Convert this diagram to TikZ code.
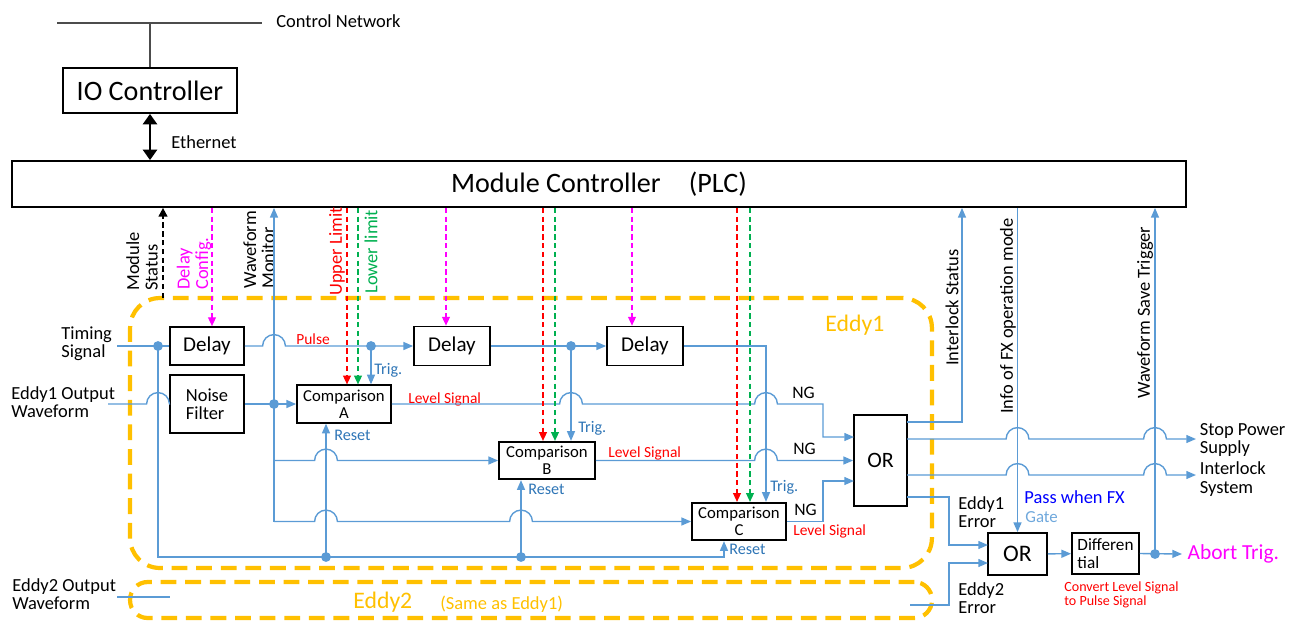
\documentclass[tikz,border=0pt]{standalone}
\usepackage{fontspec}
\setmainfont{Carlito}
\usetikzlibrary{arrows.meta, positioning, calc}
\definecolor{sigblue}{HTML}{5B9BD5}
\definecolor{txtblue}{HTML}{2E75B6}
\definecolor{gateblue}{HTML}{6FA8DC}
\definecolor{passblue}{HTML}{0000FF}
\definecolor{limred}{HTML}{FF0000}
\definecolor{limgreen}{HTML}{00B050}
\definecolor{cfgpink}{HTML}{FF00FF}
\definecolor{eddyorange}{HTML}{FFC000}
\newcommand{\fsz}[1]{\fontsize{#1}{10.5}\selectfont}
\newcommand{\fszt}[1]{\fontsize{#1}{#1}\selectfont}

\begin{document}
\begin{tikzpicture}[x=0.02cm, y=-0.02cm,
    box/.style={draw, line width=1pt, fill=white, inner sep=1pt, align=center},
    cmp/.style={box, minimum width=1.88cm, minimum height=0.75cm, inner sep=0pt, font=\fszt{9.5}},
    lbl/.style={inner sep=0pt, anchor=west, align=left, font=\fsz{10.5}},
    vlbl/.style={lbl, rotate=90},
    small/.style={lbl, font=\fsz{8.8}},
    sig/.style={draw=sigblue, line width=0.8pt},
    sigarr/.style={sig, -{Triangle[length=5.5pt, width=4.5pt]}},
    lim/.style={line width=0.7pt, dash pattern=on 3pt off 2pt, -{Triangle[length=5pt, width=4.5pt]}},
    ms/.style={line width=1.1pt, dash pattern=on 3pt off 2pt, -{Triangle[length=5pt, width=5pt]}},
    eth/.style={line width=1.7pt, {Triangle[length=6pt, width=8pt]}-{Triangle[length=6pt, width=8pt]}},
    hop/.style={insert path={-- ($(#1)+(-6.5pt,0pt)$) arc[start angle=180, end angle=0, radius=6.5pt]}},
    eddy/.style={draw=eddyorange, line width=2.4pt, dash pattern=on 9pt off 5pt, rounded corners=17pt, inner sep=0pt}]
  \useasboundingbox (0,0) rectangle (1289,620);

  \node[eddy, minimum width=16.04cm, minimum height=5.4cm] (eddy1) at (531,433) {};
  \node[eddy, rounded corners=10pt, minimum width=16.04cm, minimum height=0.72cm] (eddy2) at (531,600) {};

  \coordinate (netL) at (57,23);
  \coordinate (netR) at (262,23);
  \draw[line width=0.6pt, black!70] (netL) -- (netR);
  \node[lbl] (netlbl) at (276,21) {Control Network};
  \node[box, minimum width=3.48cm, minimum height=0.9cm, font=\fsz{16}] (ioc) at (150,90.5) {IO Controller};
  \draw[line width=0.6pt, black!70] (ioc.north) -- (ioc.north |- netL);
  \node[box, minimum width=23.48cm, minimum height=0.92cm, font=\fsz{16}] (plc) at (599,184) {Module Controller\quad(PLC)};
  \draw[eth] (ioc.south) -- (ioc.south |- plc.north);
  \node[lbl] (ethlbl) at (171,142) {Ethernet};

  \node[box, minimum width=1.48cm, minimum height=0.76cm, font=\fsz{12}] (dly1) at (207,346) {Delay};
  \node[box, minimum width=1.52cm, minimum height=0.78cm, font=\fsz{12}] (dly2) at (452,346) {Delay};
  \node[box, minimum width=1.52cm, minimum height=0.78cm, font=\fsz{12}] (dly3) at (645,346) {Delay};
  \node[box, minimum width=1.48cm, minimum height=1.16cm, font=\fsz{10.5}, align=left] (nf) at (207,404) {Noise\\Filter};
  \node[cmp] (cmpA) at (344,404) {Comparison\\A};
  \node[cmp, minimum width=1.92cm] (cmpB) at (547,460.5) {Comparison\\B};
  \node[cmp] (cmpC) at (739,521.5) {Comparison\\C};
  \node[box, minimum width=1.06cm, minimum height=1.82cm, font=\fsz{12.5}] (or1) at (880.5,460.5) {OR};
  \node[box, minimum width=1.18cm, minimum height=0.84cm, font=\fsz{13.5}] (or2) at (1017.5,554) {OR};
  \node[box, minimum width=1.34cm, minimum height=0.82cm, font=\fszt{9.8}, align=left] (dif) at (1105.5,553.5) {Differen\\tial};

  \node[lbl] (tslbl) at (61,344) {Timing\\Signal};
  \node[lbl] (e1lbl) at (11,402) {Eddy1 Output\\Waveform};
  \node[lbl] (e2lbl) at (12,594) {Eddy2 Output\\Waveform};
  \node[vlbl] (mslbl) at (142,291) {Module\\Status};
  \node[vlbl, text=cfgpink] (cfglbl) at (194,290) {Delay\\Config.};
  \node[vlbl] (wmlbl) at (259,289) {Waveform\\Monitor};
  \node[vlbl, text=limred] (uplbl) at (337,296) {Upper Limit};
  \node[vlbl, text=limgreen] (lolbl) at (371,294) {Lower limit};
  \node[vlbl] (islbl) at (952,366) {Interlock Status};
  \node[vlbl] (fxlbl) at (1008,414) {Info of FX operation mode};
  \node[vlbl] (wslbl) at (1145,399) {Waveform Save Trigger};
  \node[lbl, text=eddyorange, font=\fsz{13.5}] (e1name) at (825,325) {Eddy1};
  \node[lbl, text=eddyorange, font=\fsz{13.5}] (e2name) at (353,602) {Eddy2};
  \node[lbl, text=eddyorange] (e2note) at (440,604) {(Same as Eddy1)};
  \node[small, text=limred] (pulse) at (296,339) {Pulse};
  \foreach \n/\x/\y in {lsA/408/399, lsB/608/453, lsC/793/531}
    \node[small, text=limred] (\n) at (\x,\y) {Level Signal};
  \foreach \n/\x/\y in {trgA/374/370, trgB/578/428, trgC/770/487}
    \node[lbl, text=txtblue, font=\fsz{9.2}] (\n) at (\x,\y) {Trig.};
  \foreach \n/\x/\y in {rstA/334/435, rstB/528/489, rstC/729/549}
    \node[lbl, text=txtblue, font=\fsz{9.2}] (\n) at (\x,\y) {Reset};
  \foreach \n/\x/\y in {ngA/792/393, ngB/793/449, ngC/794/510}
    \node[lbl, font=\fsz{10}] (\n) at (\x,\y) {NG};
  \node[lbl] (e1err) at (958,512) {Eddy1\\Error};
  \node[lbl] (e2err) at (958,598) {Eddy2\\Error};
  \node[lbl, text=passblue] (pass) at (1024,497) {Pass when FX};
  \node[lbl, text=gateblue, font=\fsz{9.6}] (gate) at (1025,517) {Gate};
  \node[lbl, text=limred, font=\fszt{8}] (conv) at (1064,595) {Convert Level Signal\\to Pulse Signal};
  \node[lbl, inner xsep=2pt] (stop) at (1196,440) {Stop Power\\Supply};
  \node[lbl, inner xsep=2pt] (ilsys) at (1196,479) {Interlock\\System};
  \node[lbl, inner xsep=3pt, text=cfgpink, font=\fsz{12.2}] (abort) at (1182,554) {Abort Trig.};

  \coordinate (tsin) at (117,346);
  \coordinate (tsdot) at (158,346);
  \coordinate (busL) at (158,557);
  \coordinate (resA) at (326,557);
  \coordinate (resB) at (521,557);
  \coordinate (resC) at (724,557);
  \coordinate (e1in) at (108,404);
  \coordinate (wmdot) at (274,404);
  \coordinate (trA) at (371,346);
  \coordinate (trB) at (571,346);
  \coordinate (trC) at (766,346);
  \coordinate (bendA) at (823,404);
  \coordinate (in1) at (854,437);
  \coordinate (in3) at (854,481);
  \coordinate (oIS) at (907,422);
  \coordinate (oSP) at (907,439);
  \coordinate (oIL) at (907,475);
  \coordinate (oE1) at (907,497);
  \coordinate (ilk) at (962,422);
  \coordinate (ej) at (949,545);
  \coordinate (i1) at (988,545);
  \coordinate (i2) at (988,563);
  \coordinate (e2out) at (910,605);
  \coordinate (e2in) at (117,597);
  \coordinate (e2end) at (170,597);
  \coordinate (abdot) at (1155,554);
  \coordinate (ms) at (163,298);

  \draw[sig] (tsin) -- (dly1.west);
  \draw[sigarr] (tsdot) -- (busL) -- (resC) -- (resC |- cmpC.south);
  \draw[sigarr] (resA) -- (resA |- cmpA.south);
  \draw[sigarr] (resB) -- (resB |- cmpB.south);
  \draw[sig] (e1in) [hop={e1in -| tsdot}] -- (nf.west);
  \draw[sigarr] (nf.east) -- (cmpA.west);
  \draw[sigarr] (wmdot |- cmpC.west) -- (wmdot |- plc.south);
  \draw[sigarr] (wmdot |- cmpB.west) [hop={cmpB.west -| resA}] -- (cmpB.west);
  \draw[sigarr] (wmdot |- cmpC.west) [hop={cmpC.west -| resA}] [hop={cmpC.west -| resB}] -- (cmpC.west);
  \draw[sigarr] (dly1.east) [hop={dly1.east -| wmdot}] -- (dly2.west);
  \draw[sigarr] (dly2.east) -- (dly3.west);
  \draw[sigarr] (dly3.east) -- (trC) -- (trC |- cmpC.north);
  \draw[sigarr] (trA) -- (trA |- cmpA.north);
  \draw[sigarr] (trB) -- (trB |- cmpB.north);
  \draw[sigarr] (cmpA.east) [hop={cmpA.east -| trB}] [hop={cmpA.east -| trC}] -- (bendA) |- (in1);
  \draw[sigarr] (cmpB.east) [hop={cmpB.east -| trC}] -- (or1.west);
  \draw[sigarr] (cmpC.east) -| (bendA |- in3) -- (in3);

  \draw[sigarr] (oIS) -- (ilk) -- (ilk |- plc.south);
  \foreach \o/\t in {oSP/stop, oIL/ilsys}
    \draw[sigarr] (\o) [hop={\o -| or2}] [hop={\o -| abdot}] -- (\o -| \t.west);
  \draw[sigarr] (oE1) -| (ej) -- (i1);
  \draw[sigarr] (e2out) -| (ej |- i2) -- (i2);
  \draw[sig] (e2in) -- (e2end);
  \draw[sigarr] (or2.north |- plc.south) -- (or2.north);
  \draw[sigarr] (or2) -- (dif);
  \draw[sigarr] (dif.east) -- (abort.west);
  \draw[sigarr] (abdot) -- (abdot |- plc.south);

  \draw[ms] (ms) -- (ms |- plc.south);
  \foreach \d/\s in {dly1/5, dly2/-6, dly3/-13}
    \draw[lim, cfgpink] ($(\d.north |- plc.south)+(\s,0)$) -- ($(\d.north)+(\s,0)$);
  \foreach \c/\r/\g in {cmpA/3/14, cmpB/-4/8, cmpC/-2/11}{
    \draw[lim, limred] ($(\c.north |- plc.south)+(\r,0)$) -- ($(\c.north)+(\r,0)$);
    \draw[lim, limgreen] ($(\c.north |- plc.south)+(\g,0)$) -- ($(\c.north)+(\g,0)$);}

  \foreach \p in {tsdot, wmdot, trA, trB, resA, resB, abdot}
    \fill[sigblue] (\p) circle[radius=2.8pt];
\end{tikzpicture}
\end{document}
